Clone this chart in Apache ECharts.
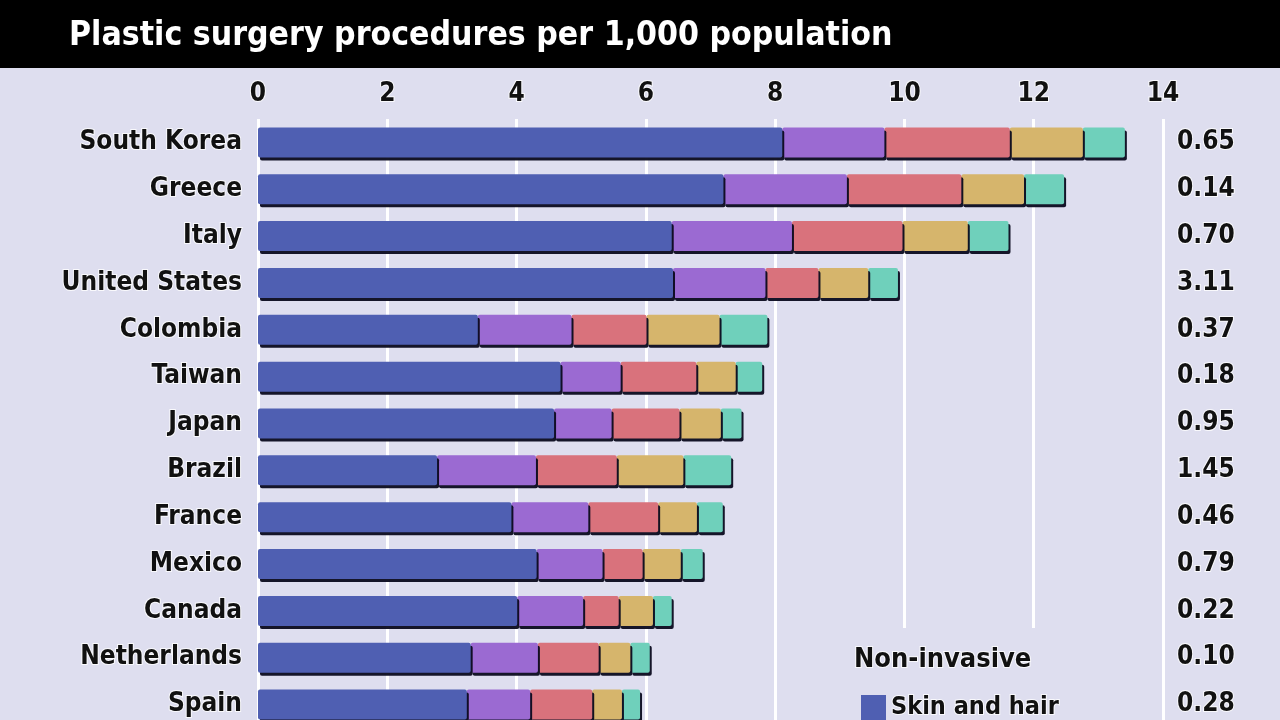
<!DOCTYPE html>
<html lang="en">
  <head>
    <meta charset="UTF-8" />
    <title>Plastic surgery procedures per 1,000 population</title>
    <script src="https://cdn.jsdelivr.net/npm/echarts@6/dist/echarts.min.js"></script>
    <style>
      html, body { margin: 0; padding: 0; background: #dedeef; overflow: hidden; }
      /* chart runs a little past the bottom edge: the last row is cut off in the original */
      .echarts { width: 1280px; height: 728px; }
    </style>
  </head>
  <body>
    <div class="echarts"></div>
    <script>
      // data (procedures per 1,000 population)
      const countries = ['South Korea', 'Greece', 'Italy', 'United States', 'Colombia', 'Taiwan', 'Japan',
        'Brazil', 'France', 'Mexico', 'Canada', 'Netherlands', 'Spain']
      const skinHair = [8.11, 7.20, 6.40, 6.42, 3.40, 4.68, 4.58, 2.77, 3.92, 4.31, 4.01, 3.29, 3.23]
      const otherNonInv = [1.58, 1.91, 1.86, 1.43, 1.45, 0.93, 0.89, 1.53, 1.19, 1.02, 1.02, 1.04, 0.98]
      const faceHead = [1.94, 1.77, 1.71, 0.82, 1.16, 1.17, 1.05, 1.25, 1.08, 0.62, 0.55, 0.94, 0.96]
      const breast = [1.13, 0.97, 1.01, 0.77, 1.13, 0.61, 0.64, 1.03, 0.60, 0.59, 0.53, 0.49, 0.46]
      const bodyExtrem = [0.65, 0.62, 0.63, 0.46, 0.74, 0.41, 0.32, 0.74, 0.40, 0.34, 0.29, 0.30, 0.28]
      const rightCol = ['0.65', '0.14', '0.70', '3.11', '0.37', '0.18', '0.95', '1.45', '0.46', '0.79', '0.22', '0.10', '0.28']

      const font = '"DejaVu Sans Condensed", "Liberation Sans", sans-serif'
      const bg = '#dedeef'
      const colors = ['#4f5fb2', '#9b6ad2', '#d9727c', '#d6b56c', '#6fd0bb']
      const halo = { textBorderColor: 'rgba(255,255,255,0.8)', textBorderWidth: 2 }

      const myCharts = echarts.init(document.querySelector('.echarts'))

      const mkSeries = (name, data, i) => ({
        name: name,
        type: 'bar',
        stack: 'total',
        data: data,
        barWidth: 30,
        z: 10 - i, // left segment on top so its shadow shows as a divider
        itemStyle: {
          color: colors[i],
          borderRadius: 2,
          shadowColor: 'rgba(10,10,30,0.95)',
          shadowBlur: 0,
          shadowOffsetX: 2,
          shadowOffsetY: 3
        }
      })

      const option = {
        backgroundColor: bg,
        animation: false,
        title: {
          text: 'Plastic surgery procedures per 1,000 population',
          left: 64,
          top: 14,
          textStyle: { color: '#fff', fontFamily: font, fontWeight: 'bold', fontSize: 33.5 }
        },
        legend: {
          data: ['Skin and hair'],
          left: 856,
          top: 689,
          itemWidth: 25,
          itemHeight: 25,
          itemGap: 8,
          icon: 'rect',
          textStyle: Object.assign({ color: '#111', fontFamily: font, fontWeight: 'bold', fontSize: 25 }, halo)
        },
        graphic: [
          { type: 'rect', left: 0, top: 0, z: 0, shape: { width: 1280, height: 68 }, style: { fill: '#000' } },
          { type: 'rect', left: 845, top: 628, z: 1, shape: { width: 300, height: 100 }, style: { fill: bg } },
          {
            type: 'text', left: 853, top: 645, z: 5,
            style: {
              text: 'Non-invasive', fill: '#111', font: 'bold 27px ' + font,
              stroke: 'rgba(255,255,255,0.8)', lineWidth: 2
            }
          }
        ],
        grid: { left: 258, right: 117, top: 119, bottom: 0 },
        xAxis: {
          type: 'value',
          position: 'top',
          min: 0,
          max: 14,
          interval: 2,
          axisLine: { show: false },
          axisTick: { show: false },
          axisLabel: Object.assign({ margin: 12, color: '#111', fontFamily: font, fontWeight: 'bold', fontSize: 26 }, halo),
          splitLine: { lineStyle: { color: '#ffffff', width: 3 } }
        },
        yAxis: [
          {
            type: 'category',
            data: countries,
            inverse: true,
            axisLine: { show: false },
            axisTick: { show: false },
            axisLabel: Object.assign({ margin: 16, color: '#111', fontFamily: font, fontWeight: 'bold', fontSize: 26 }, halo)
          },
          {
            type: 'category',
            data: rightCol,
            inverse: true,
            position: 'right',
            axisLine: { show: false },
            axisTick: { show: false },
            axisLabel: Object.assign({ margin: 14, color: '#111', fontFamily: font, fontWeight: 'bold', fontSize: 26 }, halo)
          }
        ],
        series: [
          mkSeries('Skin and hair', skinHair, 0),
          mkSeries('Other non-invasive', otherNonInv, 1),
          mkSeries('Face and head', faceHead, 2),
          mkSeries('Breast', breast, 3),
          mkSeries('Body and extremities', bodyExtrem, 4)
        ]
      }
      myCharts.setOption(option)
    </script>
  </body>
</html>
